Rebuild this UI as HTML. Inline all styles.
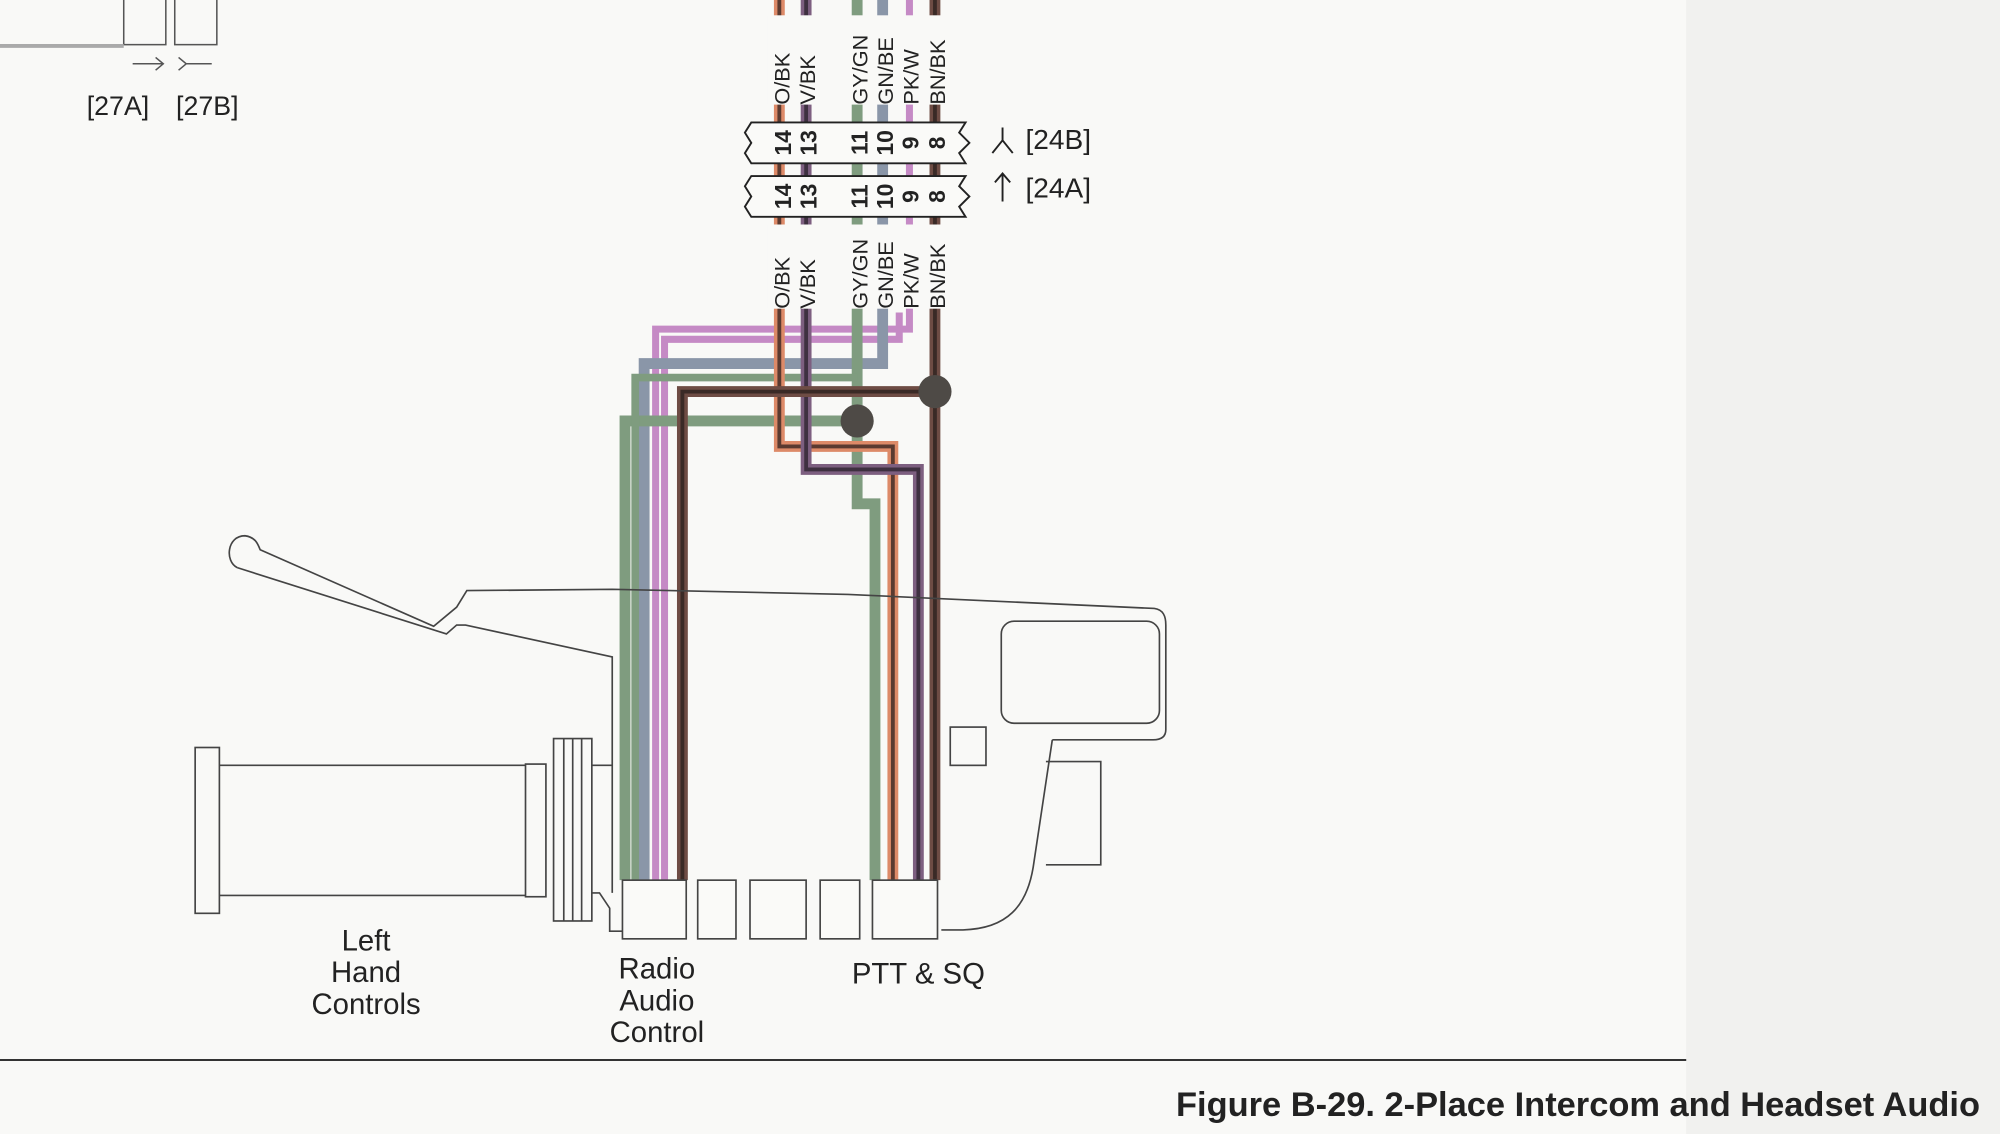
<!DOCTYPE html>
<html><head><meta charset="utf-8"><style>
html,body{margin:0;padding:0;background:#f9f9f7;}
svg{display:block;}
text{font-family:"Liberation Sans",sans-serif;fill:#222;}
</style></head><body>
<svg width="2000" height="1134" viewBox="0 0 1568 889" preserveAspectRatio="none" xmlns="http://www.w3.org/2000/svg">
<rect x="0" y="0" width="1568" height="889" fill="#f9f9f7"/>
<rect x="1322" y="0" width="246" height="889" fill="#f1f1ef"/>
<g fill="none" stroke="#555" stroke-width="1.2">
<rect x="97" y="-2" width="33" height="37"/><rect x="137" y="-2" width="33" height="37"/>
<line x1="0" y1="36" x2="97" y2="36" stroke="#aaa" stroke-width="3"/>
<path d="M104 50 H128 M122 45 L128 50 L122 55"/>
<path d="M140 45 L146 50 L140 55 M146 50 H166"/>
</g>
<text x="68" y="90" font-size="21" fill="#444">[27A]</text>
<text x="138" y="90" font-size="21" fill="#444">[27B]</text>

<g fill="none" stroke-width="8.5" stroke-linejoin="miter">
<path d="M713 0 V258 H514 V690" stroke="#c58ac5" stroke-width="5.5"/>
<path d="M705 245 V266 H521 V690" stroke="#c58ac5" stroke-width="5.5"/>
<path d="M692 0 V285 H505 V690" stroke="#8a96a8"/>
<path d="M672 0 V395 H686 V690" stroke="#7f9c7f"/>
<path d="M672 330 H490 V690" stroke="#7f9c7f"/>
<path d="M672 296 H498 V690" stroke="#7f9c7f" stroke-width="6"/>
<path d="M611 0 V350 H700 V690" stroke="#dd8a68"/>
<path d="M611 0 V350 H700 V690" stroke="#5a3a30" stroke-width="3"/>
<path d="M632 0 V368 H720 V690" stroke="#7d5f80"/>
<path d="M632 0 V368 H720 V690" stroke="#3e3040" stroke-width="3"/>
<path d="M733 0 V690" stroke="#6e4c44"/>
<path d="M733 307 H535 V690" stroke="#6e4c44"/>
<path d="M733 0 V690 M733 307 H535 V690" stroke="#3a2a26" stroke-width="3"/>
</g>
<circle cx="672" cy="330" r="13" fill="#4e4a46"/>
<circle cx="733" cy="307" r="13" fill="#4e4a46"/>

<g fill="#fafaf8" stroke="#222" stroke-width="1.5">
<path d="M589 96 H757 L752 104 L760 112 L752 120 L757 128 H589 L584 120 L589 112 L584 104 Z"/>
<path d="M589 138 H757 L752 146 L760 154 L752 162 L757 170 H589 L584 162 L589 154 L584 146 Z"/>
</g>
<g font-size="18" font-weight="bold" fill="#222">
<g transform="translate(620,112) rotate(-90)"><text text-anchor="middle">14</text></g>
<g transform="translate(640,112) rotate(-90)"><text text-anchor="middle">13</text></g>
<g transform="translate(680,112) rotate(-90)"><text text-anchor="middle">11</text></g>
<g transform="translate(700,112) rotate(-90)"><text text-anchor="middle">10</text></g>
<g transform="translate(720,112) rotate(-90)"><text text-anchor="middle">9</text></g>
<g transform="translate(741,112) rotate(-90)"><text text-anchor="middle">8</text></g>
<g transform="translate(620,154) rotate(-90)"><text text-anchor="middle">14</text></g>
<g transform="translate(640,154) rotate(-90)"><text text-anchor="middle">13</text></g>
<g transform="translate(680,154) rotate(-90)"><text text-anchor="middle">11</text></g>
<g transform="translate(700,154) rotate(-90)"><text text-anchor="middle">10</text></g>
<g transform="translate(720,154) rotate(-90)"><text text-anchor="middle">9</text></g>
<g transform="translate(741,154) rotate(-90)"><text text-anchor="middle">8</text></g>
</g>
<g font-size="17" fill="#222">
<rect x="602" y="12" width="150" height="70" fill="#f9f9f7"/>
<rect x="602" y="176" width="150" height="66" fill="#f9f9f7"/>
<g transform="translate(619,82) rotate(-90)"><text>O/BK</text></g>
<g transform="translate(639,82) rotate(-90)"><text>V/BK</text></g>
<g transform="translate(680,82) rotate(-90)"><text>GY/GN</text></g>
<g transform="translate(700,82) rotate(-90)"><text>GN/BE</text></g>
<g transform="translate(720,82) rotate(-90)"><text>PK/W</text></g>
<g transform="translate(741,82) rotate(-90)"><text>BN/BK</text></g>
<g transform="translate(619,242) rotate(-90)"><text>O/BK</text></g>
<g transform="translate(639,242) rotate(-90)"><text>V/BK</text></g>
<g transform="translate(680,242) rotate(-90)"><text>GY/GN</text></g>
<g transform="translate(700,242) rotate(-90)"><text>GN/BE</text></g>
<g transform="translate(720,242) rotate(-90)"><text>PK/W</text></g>
<g transform="translate(741,242) rotate(-90)"><text>BN/BK</text></g>
</g>
<g fill="none" stroke="#222" stroke-width="1.5">
<path d="M786 100 V110 L778 120 M786 110 L794 120"/>
<path d="M786 158 V136 M780 143 L786 136 L792 143"/>
</g>
<text x="804" y="117" font-size="22">[24B]</text>
<text x="804" y="155" font-size="22">[24A]</text>

<g fill="none" stroke="#444" stroke-width="1.3">
<path d="M186 445 C176 440 178 420 192 420 C200 421 202 426 204 431 L340 491 L358 476 L366 463 L480 462 L665 466 L905 477 C912 478 914 483 914 490 V572 C914 578 910 580 904 580 L825 580"/>
<path d="M186 445 L350 497 L358 490 L365 490 L480 515 V700"/>
<rect x="785" y="487" width="124" height="80" rx="10"/>
<rect x="745" y="570" width="28" height="30"/>
<path d="M820 597 H863 V678 H820"/>
<path d="M825 580 L810 680 C805 710 790 728 755 729 H738"/>
<rect x="153" y="586" width="19" height="130"/>
<path d="M172 600 H412 M172 702 H412"/>
<rect x="412" y="599" width="16" height="104"/>
<rect x="434" y="579" width="30" height="143"/>
<path d="M442 579 V722 M449 579 V722 M456 579 V722 M464 600 H480 M464 700 H470 L478 712 V730 H490"/>
<g fill="#fafaf8">
<rect x="488" y="690" width="50" height="46"/>
<rect x="547" y="690" width="30" height="46"/>
<rect x="588" y="690" width="44" height="46"/>
<rect x="643" y="690" width="31" height="46"/>
<rect x="684" y="690" width="51" height="46"/>
</g>
</g>
<g font-size="23" text-anchor="middle" fill="#222">
<text x="287" y="745">Left</text><text x="287" y="770">Hand</text><text x="287" y="795">Controls</text>
<text x="515" y="767">Radio</text><text x="515" y="792">Audio</text><text x="515" y="817">Control</text>
<text x="720" y="771">PTT &amp; SQ</text>
</g>
<line x1="0" y1="831" x2="1322" y2="831" stroke="#333" stroke-width="1.5"/>
<text x="922" y="875" font-size="27" font-weight="bold" fill="#222">Figure B-29. 2-Place Intercom and Headset Audio</text>
</svg>
</body></html>
